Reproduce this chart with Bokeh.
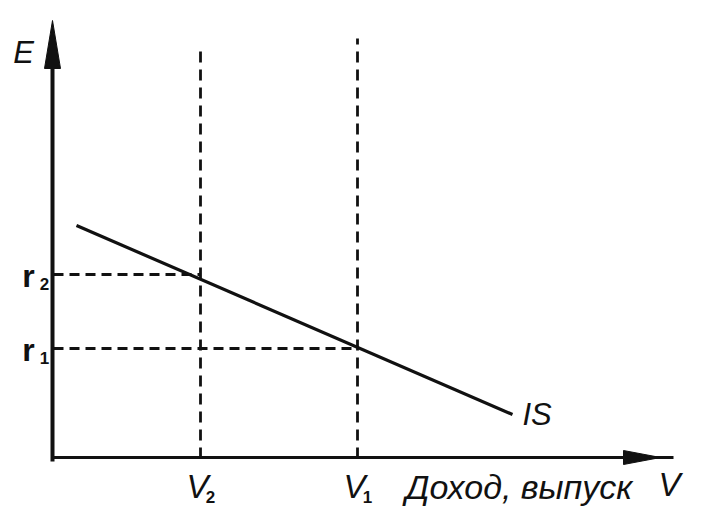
from bokeh.plotting import figure
from bokeh.models import Range1d
from bokeh.core.properties import value
from bokeh.embed import file_html
from bokeh.resources import INLINE

# ---- data (conceptual units: income V on x, rate r on y) ----
v_values = [14.7, 30.4]          # V2, V1
v_subs = ["2", "1"]
v_tops = [41.3, 42.0]            # top of the vertical dashed guides
r_values = [18.4, 11.0]          # r2, r1
r_subs = ["2", "1"]
r_ends = [14.7, 30.4]            # horizontal guides run to V2, V1
is_x = [2.3, 45.9]               # IS curve
is_y = [23.3, 4.4]
x_axis_end = 62.0
y_axis_end = 43.8
x_title = "Доход, выпуск"
y_title = "E"
curve_label = "IS"

FONT = value("Liberation Sans")

p = figure(width=693, height=512, output_backend="svg", toolbar_location=None,
           x_range=Range1d(-5.3, 64.0), y_range=Range1d(-5.4, 45.8),
           x_axis_type=None, y_axis_type=None, min_border=0)
p.outline_line_color = None
p.grid.visible = False
p.background_fill_color = "white"
p.border_fill_color = "white"

ink = "#111111"

# dashed guides
for v, top in zip(v_values, v_tops):
    p.line([v, v], [0, top], line_color=ink, line_width=2.8, line_dash="11 7")
for r, end in zip(r_values, r_ends):
    p.line([0, end], [r, r], line_color=ink, line_width=2.8, line_dash="10 6")

# IS curve
p.line(is_x, is_y, line_color=ink, line_width=3.2)

# axes
p.line([-0.1, -0.1], [-0.3, y_axis_end - 2.0], line_color=ink, line_width=4)
p.line([-0.1, x_axis_end], [0.1, 0.1], line_color=ink, line_width=3)
# arrow heads
p.patch([-0.9, -0.1, 0.7], [y_axis_end - 4.8, y_axis_end, y_axis_end - 4.8], color=ink)
p.patch([x_axis_end - 5.0, x_axis_end - 1.3, x_axis_end - 5.0],
        [0.8, 0.1, -0.6], color=ink)

# labels
lab_y = -2.8
for v, s in zip(v_values, v_subs):
    p.text([v - 0.3], [lab_y], text=["V"], text_font=FONT, text_font_style="italic",
           text_font_size="33px", text_align="center", text_baseline="middle", text_color=ink)
    p.text([v + 1.0], [lab_y - 1.0], text=[s], text_font=FONT, text_font_style="bold",
           text_font_size="17px", text_align="center", text_baseline="middle", text_color=ink)

for r, s in zip(r_values, r_subs):
    p.text([-2.5], [r - 0.1], text=["r"], text_font=FONT, text_font_style="bold",
           text_font_size="32px", text_align="center", text_baseline="middle", text_color=ink)
    p.text([-0.9], [r - 0.9], text=[s], text_font=FONT, text_font_style="bold",
           text_font_size="17px", text_align="center", text_baseline="middle", text_color=ink)

p.text([35.2], [lab_y], text=[x_title], text_font=FONT, text_font_style="italic",
       text_font_size="34px", text_align="left", text_baseline="middle", text_color=ink)
p.text([61.6], [lab_y + 0.2], text=["V"], text_font=FONT, text_font_style="italic",
       text_font_size="33px", text_align="center", text_baseline="middle", text_color=ink)
p.text([-3.0], [40.6], text=[y_title], text_font=FONT, text_font_style="italic",
       text_font_size="31px", text_align="center", text_baseline="middle", text_color=ink)
p.text([46.9], [4.4], text=[curve_label], text_font=FONT, text_font_style="italic",
       text_font_size="31px", text_align="left", text_baseline="middle", text_color=ink)

open("out.html", "w").write(file_html(p, INLINE))
